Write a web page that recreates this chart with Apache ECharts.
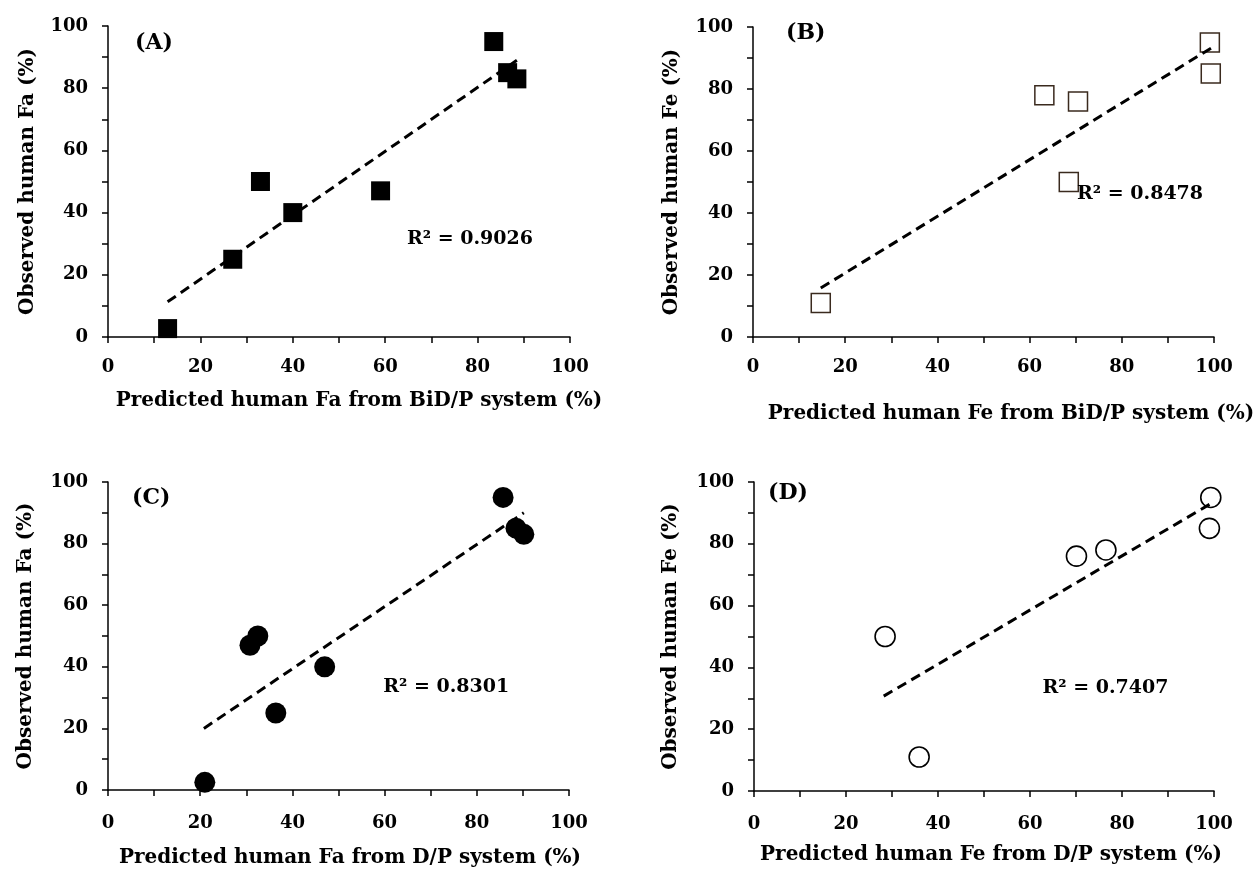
<!DOCTYPE html>
<html>
<head>
<meta charset="utf-8">
<script src="https://cdn.jsdelivr.net/npm/echarts@6/dist/echarts.min.js"></script>
<style>
html,body{margin:0;padding:0;background:#fff;}
#chart{width:1257px;height:871px;}
</style>
</head>
<body>
<div id="chart"></div>
<script>
// ---------- data ----------
var ticksX = [0, 20, 40, 60, 80, 100];
var ticksY = [0, 20, 40, 60, 80, 100];

var panelLabels = ['(A)', '(B)', '(C)', '(D)'];
var xTitles = [
  'Predicted human Fa from BiD/P system (%)',
  'Predicted human Fe from BiD/P system (%)',
  'Predicted human Fa from D/P system (%)',
  'Predicted human Fe from D/P system (%)'
];
var yTitles = [
  'Observed human Fa (%)',
  'Observed human Fe (%)',
  'Observed human Fa (%)',
  'Observed human Fe (%)'
];

// (A) Fa, BiD/P system
var pointsA = [[12.9, 2.7], [27, 25], [33, 50], [40, 40], [59, 47], [83.5, 95], [86.5, 85], [88.5, 83]];
// (B) Fe, BiD/P system
var pointsB = [[14.7, 11], [63.2, 78], [70.5, 76], [68.5, 50], [99.1, 95], [99.3, 85]];
// (C) Fa, D/P system
var pointsC = [[21, 2.5], [30.8, 47], [32.5, 50], [36.4, 25], [47, 40], [85.7, 95], [88.5, 85], [90.2, 83]];
// (D) Fe, D/P system
var pointsD = [[28.5, 50], [35.9, 11], [70.1, 76], [76.5, 78], [99.3, 95], [99, 85]];

// linear trend lines (end points)
var trendA = [[12.9, 11.3], [88.5, 89]];
var trendB = [[14.7, 15.8], [99.5, 93.3]];
var trendC = [[20.8, 20], [90.2, 90]];
var trendD = [[28.2, 30.7], [99.3, 93]];

// R² annotations (anchor at left-middle of text, in data units)
var r2Text = ['R\u00b2 = 0.9026', 'R\u00b2 = 0.8478', 'R\u00b2 = 0.8301', 'R\u00b2 = 0.7407'];
var r2Pos = [[64.7, 31.5], [70.3, 46], [59.7, 33.4], [62.7, 33.2]];

// ---------- layout ----------
var FONT = 'DejaVu Serif';
var grids = [
  {left: 108, top: 26, width: 462, height: 311},
  {left: 753, top: 27, width: 461, height: 310},
  {left: 108, top: 482, width: 461, height: 308},
  {left: 754, top: 482, width: 460, height: 309}
];
var xNameGap = [54, 67, 58, 54];
var xNamePad = [40, 55, 23, 14];
var yNameGap = [70, 71, 72, 73];
var xLabelMargin = [21, 21, 24, 24];
var panelPos = [[135, 43], [786, 33], [132, 498], [768, 493]];

var pointSets = [pointsA, pointsB, pointsC, pointsD];
var trends = [trendA, trendB, trendC, trendD];
var markerSym = ['rect', 'rect', 'circle', 'circle'];
var markerSize = [19, 19, 21, 20];
var markerFill = ['#000', '#fff', '#000', '#fff'];
var markerBorder = ['#000', '#3a2a1e', '#000', '#000'];
var markerBorderW = [0, 1.5, 0, 1.6];

function axisCommon(i, isX) {
  return {
    type: 'value',
    gridIndex: i,
    min: 0, max: 100, interval: 20,
    axisLine: {show: true, onZero: false, lineStyle: {color: '#000', width: 1.5}},
    axisTick: {show: true, inside: false, length: 6, lineStyle: {color: '#000', width: 1.5}},
    minorTick: {show: true, splitNumber: 2, length: 6, lineStyle: {color: '#000', width: 1.5}},
    splitLine: {show: false},
    minorSplitLine: {show: false},
    axisLabel: {
      color: '#000', fontFamily: FONT, fontWeight: 'bold', fontSize: 18,
      margin: isX ? xLabelMargin[i] : 20,
      formatter: function (v) {
        var arr = isX ? ticksX : ticksY;
        return arr.indexOf(v) >= 0 ? String(v) : '';
      }
    },
    name: isX ? xTitles[i] : yTitles[i],
    nameLocation: 'middle',
    nameGap: isX ? xNameGap[i] : yNameGap[i],
    nameTextStyle: isX
      ? {color: '#000', fontFamily: FONT, fontWeight: 'bold', fontSize: 20, padding: [0, 0, 0, xNamePad[i]]}
      : {color: '#000', fontFamily: FONT, fontWeight: 'bold', fontSize: 20}
  };
}

var xAxes = [], yAxes = [], series = [], graphics = [];
for (var i = 0; i < 4; i++) {
  xAxes.push(axisCommon(i, true));
  yAxes.push(axisCommon(i, false));
  series.push({
    type: 'scatter',
    xAxisIndex: i, yAxisIndex: i,
    data: pointSets[i],
    symbol: markerSym[i],
    symbolSize: markerSize[i],
    itemStyle: {color: markerFill[i], borderColor: markerBorder[i], borderWidth: markerBorderW[i], opacity: 1},
    z: 3,
    silent: true
  });
  series.push({
    type: 'line',
    xAxisIndex: i, yAxisIndex: i,
    data: trends[i],
    symbol: 'none',
    lineStyle: {color: '#000', width: 3, type: [10, 6]},
    z: 4,
    silent: true
  });
  graphics.push({
    type: 'text',
    x: panelPos[i][0], y: panelPos[i][1],
    style: {
      text: panelLabels[i], fill: '#000', font: 'bold 22px "DejaVu Serif"',
      textAlign: 'left', textVerticalAlign: 'middle'
    }
  });
}

var chart = echarts.init(document.getElementById('chart'), null, {renderer: 'canvas'});
chart.setOption({
  backgroundColor: '#fff',
  animation: false,
  grid: grids,
  xAxis: xAxes,
  yAxis: yAxes,
  series: series,
  graphic: graphics
});

// R² annotations positioned through the grids' own scales
var r2Graphics = graphics.slice();
for (var j = 0; j < 4; j++) {
  var px = chart.convertToPixel({gridIndex: j}, r2Pos[j]);
  r2Graphics.push({
    type: 'text',
    x: px[0], y: px[1],
    z: 10,
    style: {
      text: r2Text[j], fill: '#000', font: 'bold 19px "DejaVu Serif"',
      textAlign: 'left', textVerticalAlign: 'middle'
    }
  });
}
chart.setOption({graphic: r2Graphics});
</script>
</body>
</html>
